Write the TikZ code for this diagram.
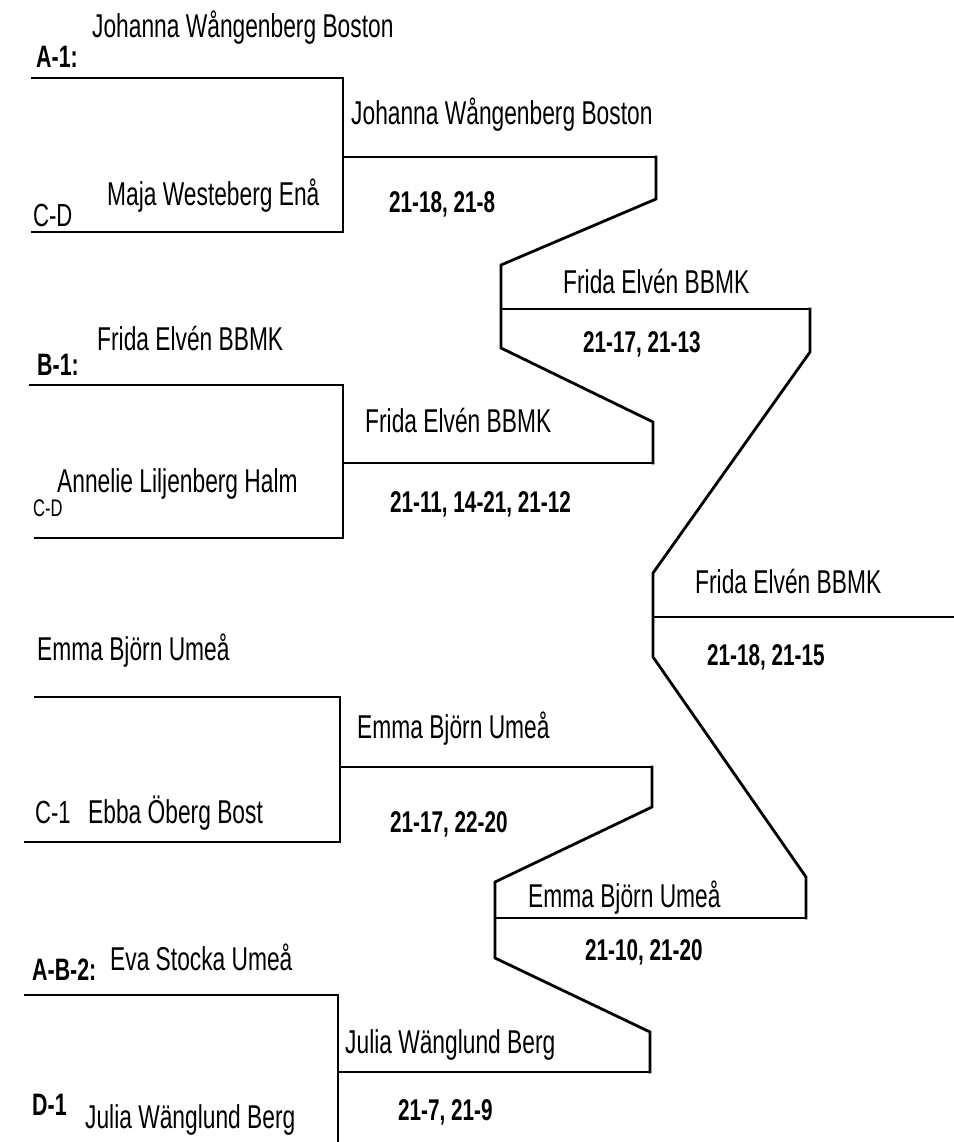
\documentclass[tikz,border=0pt]{standalone}
\usepackage{fontspec}
\setmainfont[FakeStretch=0.69]{Liberation Sans}
\usetikzlibrary{positioning}

\begin{document}
\begin{tikzpicture}[x=1pt, y=-1pt,
  bline/.style={line width=2.8pt, line cap=rect},
  player/.style={anchor=base west, inner sep=0pt, font=\fontsize{33}{33}\selectfont},
  seed/.style={anchor=base west, inner sep=0pt, font=\fontsize{31}{31}\selectfont\bfseries},
  slot/.style={anchor=base west, inner sep=0pt, font=\fontsize{32}{32}\selectfont},
  score/.style={anchor=base west, inner sep=0pt, font=\fontsize{30}{30}\selectfont\bfseries}]
  \useasboundingbox[fill=white] (0,0) rectangle (953,1142);

  % round 1, match A-1 / C-D
  \coordinate (a1s) at (32,78);   \coordinate (a1e) at (343,78);
  \coordinate (cd1s) at (32,232); \coordinate (cd1e) at (343,232);
  \coordinate (m1) at (343,157);  \coordinate (m1r) at (656,157);
  \draw[bline] (a1s) -- (a1e) -- (cd1e) -- (cd1s);
  \draw[bline] (m1) -- (m1r);

  % round 1, match B-1 / C-D
  \coordinate (b1s) at (30,385);  \coordinate (b1e) at (343,385);
  \coordinate (cd2s) at (35,538); \coordinate (cd2e) at (343,538);
  \coordinate (m2) at (343,463);  \coordinate (m2r) at (653,463);
  \draw[bline] (b1s) -- (b1e) -- (cd2e) -- (cd2s);
  \draw[bline] (m2) -- (m2r);

  % round 1, match Emma / C-1
  \coordinate (e1s) at (35,697);  \coordinate (e1e) at (340,697);
  \coordinate (c1s) at (25,842);  \coordinate (c1e) at (340,842);
  \coordinate (m3) at (340,767);  \coordinate (m3r) at (652,767);
  \draw[bline] (e1s) -- (e1e) -- (c1e) -- (c1s);
  \draw[bline] (m3) -- (m3r);

  % round 1, match A-B-2 / D-1
  \coordinate (ab2s) at (25,995); \coordinate (ab2e) at (338,995);
  \coordinate (d1e) at (338,1142);
  \coordinate (m4) at (338,1072); \coordinate (m4r) at (650,1072);
  \draw[bline] (ab2s) -- (ab2e) -- (d1e);
  \draw[bline] (m4) -- (m4r);

  % round 2
  \coordinate (q1a) at (656,199); \coordinate (q1b) at (501,265);
  \coordinate (q1c) at (501,348); \coordinate (q1d) at (653,422);
  \coordinate (q1m) at (501,309); \coordinate (q1r) at (810,309);
  \draw[bline] (m1r) -- (q1a) -- (q1b) -- (q1c) -- (q1d) -- (m2r);
  \draw[bline] (q1m) -- (q1r);

  \coordinate (q2a) at (652,807); \coordinate (q2b) at (495,882);
  \coordinate (q2c) at (495,958); \coordinate (q2d) at (650,1032);
  \coordinate (q2m) at (495,918); \coordinate (q2r) at (806,918);
  \draw[bline] (m3r) -- (q2a) -- (q2b) -- (q2c) -- (q2d) -- (m4r);
  \draw[bline] (q2m) -- (q2r);

  % final
  \coordinate (f1) at (810,352);  \coordinate (f2) at (653,573);
  \coordinate (f3) at (653,657);  \coordinate (f4) at (806,877);
  \coordinate (fm) at (653,617);  \coordinate (fr) at (953,617);
  \draw[bline] (q1r) -- (f1) -- (f2) -- (f3) -- (f4) -- (q2r);
  \draw[bline] (fm) -- (fr);

  % texts, round 1
  \node[player] (pa1) at (92,38) {Johanna Wångenberg Boston};
  \node[seed] (sa1) at (36,68) {A-1:};
  \node[player] (pcd1) at (107,205) {Maja Westeberg Enå};
  \node[slot] (scd1) at (33,226) {C-D};

  \node[player] (pb1) at (97,350) {Frida Elvén BBMK};
  \node[seed] (sb1) at (37,375) {B-1:};
  \node[player] (pcd2) at (57,492) {Annelie Liljenberg Halm};
  \node[slot, font=\fontsize{24}{24}\selectfont] (scd2) at (33,516) {C-D};

  \node[player] (pe1) at (37,660) {Emma Björn Umeå};
  \node[slot] (sc1) at (35,823) {C-1};
  \node[player] (pc1) at (88,823) {Ebba Öberg Bost};

  \node[seed] (sab2) at (32,980) {A-B-2:};
  \node[player] (pab2) at (110,970) {Eva Stocka Umeå};
  \node[seed] (sd1) at (32,1115) {D-1};
  \node[player] (pd1) at (85,1128) {Julia Wänglund Berg};

  % winners and scores
  \node[player] (w1) at (351,125) {Johanna Wångenberg Boston};
  \node[score] (r1) at (389,212) {21-18, 21-8};
  \node[player] (w2) at (365,432) {Frida Elvén BBMK};
  \node[score] (r2) at (390,512) {21-11, 14-21, 21-12};
  \node[player] (w3) at (357,738) {Emma Björn Umeå};
  \node[score] (r3) at (390,832) {21-17, 22-20};
  \node[player] (w4) at (345,1053) {Julia Wänglund Berg};
  \node[score] (r4) at (398,1120) {21-7, 21-9};

  \node[player] (w5) at (563,293) {Frida Elvén BBMK};
  \node[score] (r5) at (583,352) {21-17, 21-13};
  \node[player] (w6) at (528,907) {Emma Björn Umeå};
  \node[score] (r6) at (585,960) {21-10, 21-20};

  \node[player] (w7) at (695,593) {Frida Elvén BBMK};
  \node[score] (r7) at (707,665) {21-18, 21-15};
\end{tikzpicture}
\end{document}
